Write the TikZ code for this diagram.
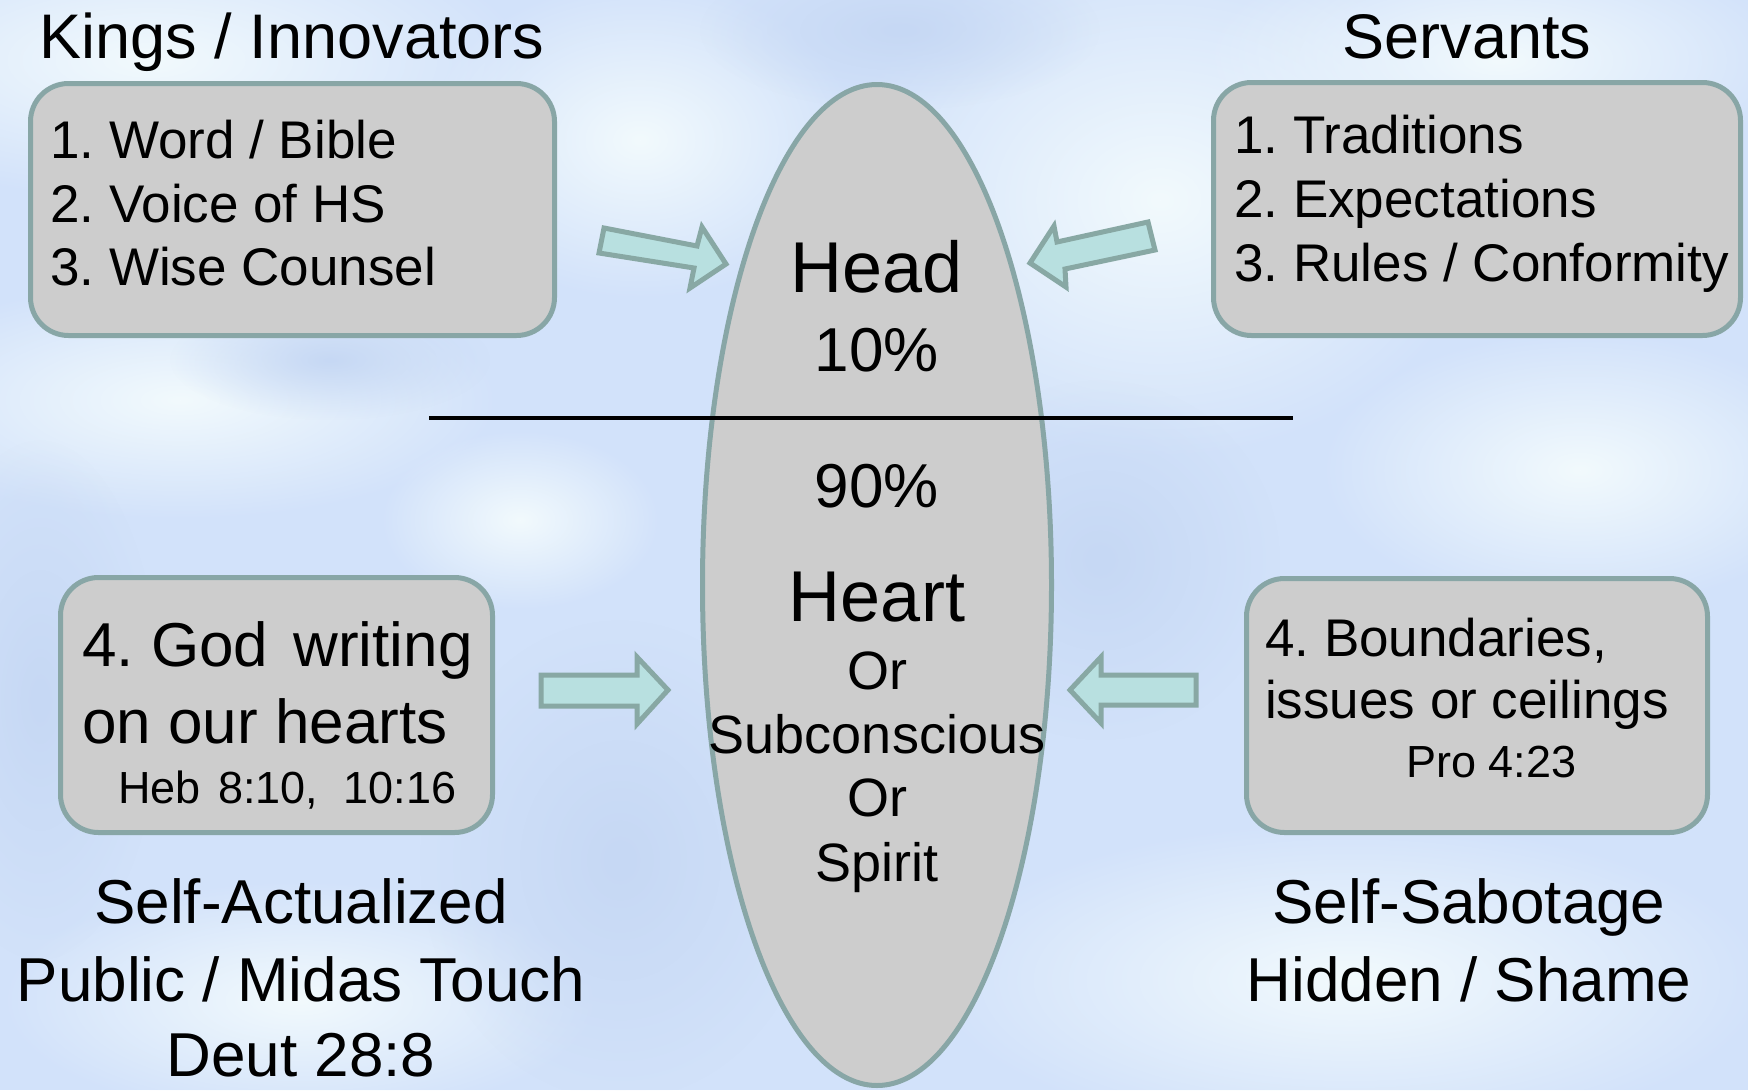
\documentclass[tikz,border=0pt]{standalone}
\usepackage{fontspec}
\setmainfont{Liberation Sans}
\usetikzlibrary{fadings,shapes.geometric}
\tikzfading[name=softblob, inner color=transparent!0, outer color=transparent!100]
\definecolor{skyblue}{HTML}{D2E2FA}
\definecolor{skywhite}{HTML}{F2FAFD}
\definecolor{skydeep}{HTML}{C6D8F4}
\definecolor{boxfill}{HTML}{CDCDCD}
\definecolor{boxedge}{HTML}{88A6A6}
\definecolor{arrfill}{HTML}{B8E0E0}
\definecolor{arredge}{HTML}{88A8A4}
\frenchspacing
\begin{document}
\begin{tikzpicture}[x=1pt,y=-1pt,
  txt/.style={inner sep=0pt, text=black},
  f72/.style={txt, font=\fontsize{72}{86}\selectfont},
  f63/.style={txt, font=\fontsize{63}{75}\selectfont},
  f62/.style={txt, font=\fontsize{62}{74}\selectfont},
  f54/.style={txt, font=\fontsize{54}{64}\selectfont},
  f53/.style={txt, font=\fontsize{53}{64}\selectfont},
  f45/.style={txt, font=\fontsize{45}{54}\selectfont},
  infobox/.style={draw=boxedge, fill=boxfill, line width=5pt, rounded corners=38pt, inner sep=0pt},
  blockarrow/.style={draw=arredge, fill=arrfill, line width=5pt, line join=miter},
  blob/.style={fill=#1, path fading=softblob}
]
\useasboundingbox (0,0) rectangle (1748,1090);
% background sky
\fill[skyblue] (0,0) rectangle (1748,1090);
\fill[blob=skywhite] (150,60) ellipse [x radius=380, y radius=140];
\fill[blob=skywhite] (640,140) ellipse [x radius=220, y radius=160];
\fill[blob=skywhite] (1160,200) ellipse [x radius=330, y radius=260];
\fill[blob=skywhite] (1500,60) ellipse [x radius=300, y radius=120];
\fill[blob=skywhite] (180,400) ellipse [x radius=320, y radius=120];
\fill[blob=skywhite] (1580,470) ellipse [x radius=260, y radius=140];
\fill[blob=skywhite] (1350,980) ellipse [x radius=420, y radius=160];
\fill[blob=skywhite] (300,1000) ellipse [x radius=300, y radius=120];
\fill[blob=skywhite] (520,520) ellipse [x radius=140, y radius=90];
\fill[blob=skydeep] (620,860) ellipse [x radius=200, y radius=240];
\fill[blob=skydeep] (40,700) ellipse [x radius=120, y radius=260];
\fill[blob=skydeep] (900,30) ellipse [x radius=200, y radius=80];
\fill[blob=skydeep] (1100,560) ellipse [x radius=180, y radius=180];
\fill[blob=skydeep] (330,360) ellipse [x radius=160, y radius=60];

% central ellipse
\node[draw=boxedge, fill=boxfill, line width=5pt, ellipse, inner sep=0pt,
      minimum width=349pt, minimum height=1001pt] (mind) at (877,585) {};
\draw[line width=3.2pt, black] (429,418) coordinate (lineL) -- (1293,418) coordinate (lineR);

% boxes
\node[infobox, minimum width=524pt, minimum height=252pt] (boxTL) at (292.5,209.5) {};
\node[infobox, minimum width=527pt, minimum height=253pt] (boxTR) at (1477,209) {};
\node[infobox, minimum width=432pt, minimum height=255pt] (boxBL) at (276.5,705) {};
\node[infobox, minimum width=461pt, minimum height=254pt] (boxBR) at (1477,705.5) {};

% block arrows
\draw[blockarrow] (604,228) -- (697,246) -- (702,227) -- (726,264) -- (690,288) -- (694,268) -- (599,253) -- cycle;
\draw[blockarrow] (1148,222) -- (1057,242) -- (1054,226) -- (1030,263) -- (1066,287) -- (1065,269) -- (1155,250) -- cycle;
\draw[blockarrow] (541,675) -- (637,675) -- (637,657) -- (668,690) -- (637,724) -- (637,706) -- (541,706) -- cycle;
\draw[blockarrow] (1196,675) -- (1101,675) -- (1101,657) -- (1070,690) -- (1101,723) -- (1101,705) -- (1196,705) -- cycle;

% headers
\node[f63, anchor=base] (kings) at (292,58) {Kings / Innovators};
\node[f63, anchor=base] (servants) at (1467,58) {Servants};

% top-left box text
\node[f53, anchor=base west] (tl1) at (50,158) {1. Word / Bible};
\node[f53, anchor=base west] (tl2) at (50,222) {2. Voice of HS};
\node[f53, anchor=base west] (tl3) at (50,285) {3. Wise Counsel};

% top-right box text
\node[f53, anchor=base west] (tr1) at (1234,153) {1. Traditions};
\node[f53, anchor=base west] (tr2) at (1234,217) {2. Expectations};
\node[f53, anchor=base west] (tr3) at (1234,281) {3. Rules / Conformity};

% bottom-left box text
\node[f62, anchor=base west] (bl1) at (82,666) {4. God\hspace{8pt} writing};
\node[f62, anchor=base west] (bl2) at (82,743) {on our hearts};
\node[f45, anchor=base west] (bl3) at (118,803) {Heb\hspace{5pt} 8:10,\hspace{13pt} 10:16};

% bottom-right box text
\node[f53, anchor=base west] (br1) at (1265,656) {4. Boundaries,};
\node[f53, anchor=base west] (br2) at (1265,718) {issues or ceilings};
\node[f45, anchor=base west] (br3) at (1406,777) {Pro 4:23};

% ellipse text
\node[f72, anchor=base] (head) at (877,292) {Head};
\node[f62, anchor=base] (p10) at (877,371) {10\%};
\node[f62, anchor=base] (p90) at (877,507) {90\%};
\node[f72, anchor=base] (heart) at (877,621) {Heart};
\node[f54, anchor=base] (or1) at (877,689) {Or};
\node[f54, anchor=base] (subc) at (877,753) {Subconscious};
\node[f54, anchor=base] (or2) at (877,816) {Or};
\node[f54, anchor=base] (spirit) at (877,881) {Spirit};

% bottom captions
\node[f62, anchor=base] (sa1) at (301,923) {Self-Actualized};
\node[f62, anchor=base] (sa2) at (301,1001) {Public / Midas Touch};
\node[f62, anchor=base] (sa3) at (301,1076) {Deut 28:8};
\node[f62, anchor=base] (ss1) at (1469,923) {Self-Sabotage};
\node[f62, anchor=base] (ss2) at (1469,1001) {Hidden / Shame};
\end{tikzpicture}
\end{document}
